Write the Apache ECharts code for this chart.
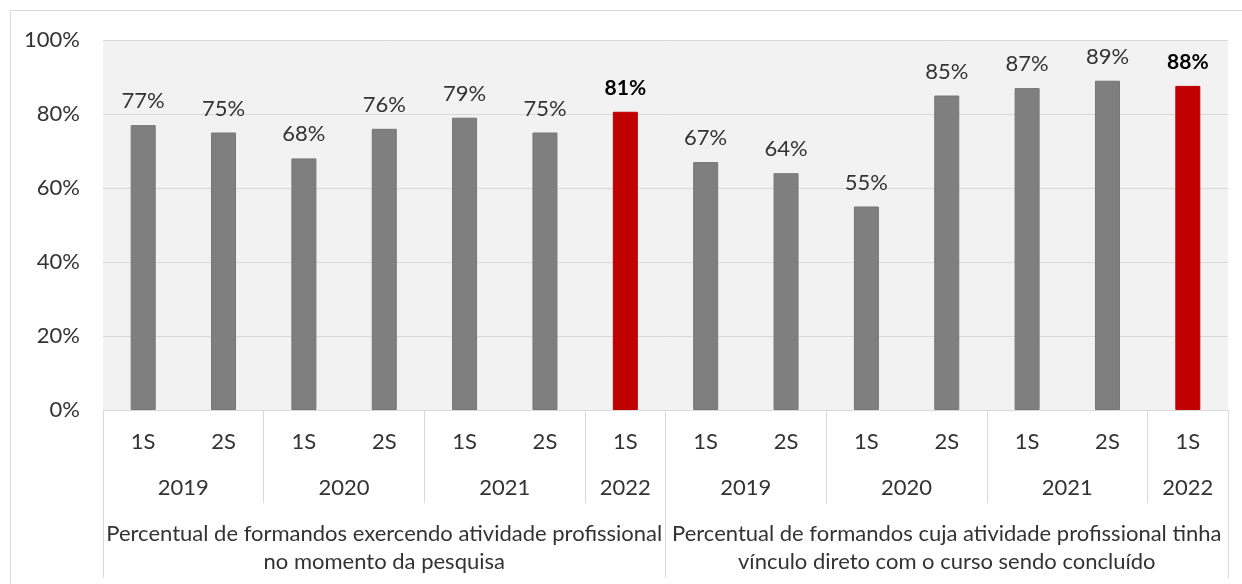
<!DOCTYPE html>
<html>
<head>
<meta charset="utf-8">
<script src="https://cdn.jsdelivr.net/npm/echarts@6/dist/echarts.min.js"></script>
<style>
  html, body { margin: 0; padding: 0; background: #fff; }
  #frame { position: absolute; left: 10px; top: 10px; width: 1300px; height: 700px;
           border-left: 1px solid #d9d9d9; border-top: 1px solid #d9d9d9; }
  #chart { position: absolute; left: 0; top: 0; width: 1242px; height: 584px; }
</style>
</head>
<body>
<div id="frame"></div>
<div id="chart"></div>
<script>
// semestre por barra
const semesters = ['1S','2S','1S','2S','1S','2S','1S', '1S','2S','1S','2S','1S','2S','1S']
// anos e quantas barras cada um ocupa
const years = ['2019','2020','2021','2022', '2019','2020','2021','2022']
const yearSpan = [2,2,2,1, 2,2,2,1]
const groups = [
  'Percentual de formandos exercendo atividade profissional\nno momento da pesquisa',
  'Percentual de formandos cuja atividade profissional tinha\nvínculo direto com o curso sendo concluído'
]
const groupSpan = [7,7]
const values = [77,75,68,76,79,75,80.6, 67,64,55,85,87,89,87.6]
const highlight = [6,13]
const yTicks = ['0%','20%','40%','60%','80%','100%']

const font = 'Lato, "Open Sans", sans-serif'
const txt = '#333'
const line = '#d9d9d9'

// posicoes dos rotulos e separadores a partir dos spans
function spans(arr){
  let pos = 0, edges = [0], centers = []
  arr.forEach(n => { centers.push(pos + n/2); pos += n; edges.push(pos) })
  return {edges, centers}
}
const ys = spans(yearSpan)
const gs = spans(groupSpan)
const yearLabel = {}
ys.centers.forEach((c,i) => yearLabel[c.toFixed(1)] = years[i])
const groupLabel = {}
gs.centers.forEach((c,i) => groupLabel[c.toFixed(1)] = groups[i])

let myChart = echarts.init(document.getElementById('chart'))
myChart.setOption({
  animation:false,
  textStyle:{fontFamily:font},
  grid:{
    left:103,
    right:14,
    top:40,
    bottom:174,
    show:true,
    backgroundColor:'#f2f2f2',
    borderWidth:0
  },
  xAxis:[
    {
      type:'category',
      data:semesters,
      axisLine:{lineStyle:{color:line}},
      axisTick:{show:false},
      axisLabel:{interval:0, margin:21, fontSize:22, color:txt, fontFamily:font}
    },
    {
      type:'value',
      min:0,
      max:14,
      position:'bottom',
      axisLine:{show:false},
      splitLine:{show:false},
      axisTick:{show:true, customValues:ys.edges, length:93, lineStyle:{color:line}},
      axisLabel:{customValues:ys.centers, margin:67, fontSize:22, color:txt, fontFamily:font,
        formatter:(v) => yearLabel[Number(v).toFixed(1)] || ''}
    },
    {
      type:'value',
      min:0,
      max:14,
      position:'bottom',
      axisLine:{show:false},
      splitLine:{show:false},
      axisTick:{show:true, customValues:gs.edges, length:168, lineStyle:{color:line}},
      axisLabel:{customValues:gs.centers, margin:110, fontSize:22, lineHeight:28, color:txt, fontFamily:font,
        formatter:(v) => groupLabel[Number(v).toFixed(1)] || ''}
    }
  ],
  yAxis:{
    type:'value',
    min:0,
    max:100,
    interval:20,
    axisLine:{show:false},
    axisTick:{show:false},
    splitLine:{lineStyle:{color:line}},
    axisLabel:{margin:23, fontSize:22, color:txt, fontFamily:font,
      formatter:(v) => yTicks[v/20]}
  },
  series:[
    {
      type:'bar',
      barWidth:25,
      data:values.map((v,i) => highlight.includes(i) ? {
        value:v,
        itemStyle:{color:'#c00000', borderColor:'#c00000'},
        label:{fontWeight:'bold', color:'#000', fontSize:21}
      } : v),
      itemStyle:{color:'#7f7f7f', borderColor:'#767676', borderWidth:1},
      label:{
        show:true,
        position:'top',
        distance:13,
        fontSize:22,
        color:txt,
        fontFamily:font,
        formatter:(p) => Math.round(p.value) + '%'
      }
    }
  ]
})
</script>
</body>
</html>
